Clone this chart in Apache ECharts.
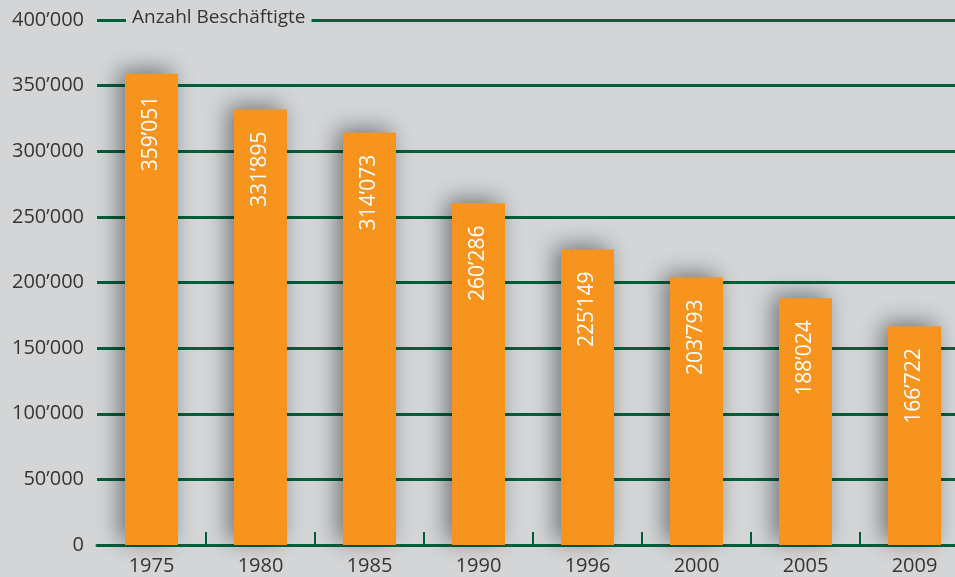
<!DOCTYPE html>
<html>
<head>
<meta charset="utf-8">
<script src="https://cdn.jsdelivr.net/npm/echarts@6/dist/echarts.min.js"></script>
<style>
  html, body { margin: 0; padding: 0; background: #d3d5d7; overflow: hidden; }
  /* the plot runs past the right edge of the picture, like the original */
  #chart { width: 969px; height: 577px; }
</style>
</head>
<body>
<div id="chart"></div>
<script>
const years = ['1975', '1980', '1985', '1990', '1996', '2000', '2005', '2009']
const employees = [359051, 331895, 314073, 260286, 225149, 203793, 188024, 166722]

const green = '#00603a'
const textColor = '#353535'

// Swiss style thousands separator
function fmt(v) {
  return String(v).replace(/\B(?=(\d{3})+(?!\d))/g, '\u2019')
}

const chart = echarts.init(document.getElementById('chart'))
chart.setOption({
  backgroundColor: '#d3d5d7',
  animation: false,
  textStyle: { fontFamily: 'Open Sans' },
  title: {
    text: 'Anzahl Beschäftigte',
    left: 126,
    top: 6,
    padding: [2, 6],
    backgroundColor: '#d3d5d7',
    textStyle: { fontSize: 19, fontWeight: 'normal', color: textColor }
  },
  grid: {
    left: 97,
    top: 20,
    right: 0,
    bottom: 32
  },
  xAxis: {
    type: 'category',
    data: years,
    axisLine: { lineStyle: { color: green, width: 3 } },
    axisTick: {
      show: true,
      inside: true,
      length: 13,
      lineStyle: { color: green, width: 2 },
      interval: (i) => i !== 0
    },
    axisLabel: { color: textColor, fontSize: 20, margin: 11, interval: 0 }
  },
  yAxis: {
    type: 'value',
    min: 0,
    max: 400000,
    interval: 50000,
    axisLine: { show: false },
    axisTick: { show: false },
    axisLabel: {
      color: textColor,
      fontSize: 20,
      margin: 13,
      formatter: fmt
    },
    splitLine: { lineStyle: { color: green, width: 3 } }
  },
  series: [
    {
      type: 'bar',
      data: employees,
      barWidth: 53,
      itemStyle: {
        color: '#f7941e',
        shadowColor: 'rgba(0, 0, 0, 0.45)',
        shadowBlur: 22,
        shadowOffsetX: -6,
        shadowOffsetY: -4
      },
      label: {
        show: true,
        position: 'insideTop',
        distance: 22,
        rotate: 90,
        align: 'right',
        verticalAlign: 'middle',
        color: '#ffffff',
        fontSize: 21,
        formatter: (p) => fmt(p.value)
      }
    }
  ]
})
</script>
</body>
</html>
